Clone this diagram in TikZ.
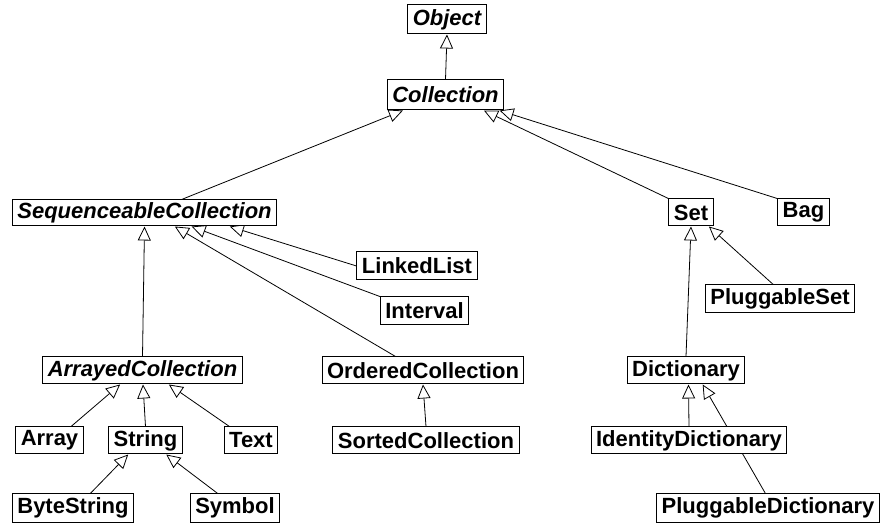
\documentclass[tikz,border=0pt]{standalone}
\usepackage{fontspec}
\setmainfont{Liberation Sans}
\usepackage{tikz}
\usetikzlibrary{arrows.meta, backgrounds}
\tikzstyle{cls} = [rectangle, draw=black, fill=white, line width=1pt, inner xsep=5pt, inner ysep=0pt, minimum height=27pt, text centered, font=\fontsize{22}{24}\selectfont\bfseries]
\tikzstyle{abstract} = [cls, font=\fontsize{22}{24}\selectfont\bfseries\itshape]
\tikzstyle{inherit} = [line width=0.8pt, -{Triangle[open, length=14pt, width=13pt]}]

\begin{document}
\begin{tikzpicture}[x=1pt, y=-1pt]
        \useasboundingbox (0,0) rectangle (892,526);

        \node (obj) [abstract, minimum height=29pt] at (447,19.5) {Object};
        \node (coll) [abstract, minimum height=30pt] at (445.5,95) {Collection};
        \node (seq) [abstract, minimum height=26pt] at (144.5,213) {SequenceableCollection};
        \node (set) [cls] at (691,212.5) {Set};
        \node (bag) [cls] at (803.5,212.5) {Bag};
        \node (lnk) [cls, minimum height=28pt] at (417,266) {LinkedList};
        \node (intv) [cls, minimum height=28pt] at (424.5,311) {Interval};
        \node (pset) [cls, minimum height=28pt] at (780,299) {PluggableSet};
        \node (arrc) [abstract] at (142.5,370.5) {ArrayedCollection};
        \node (ord) [cls] at (423,370.5) {OrderedCollection};
        \node (dict) [cls] at (686,370.5) {Dictionary};
        \node (arr) [cls] at (49.5,440.5) {Array};
        \node (str) [cls] at (145.5,440.5) {String};
        \node (txt) [cls] at (251,440.5) {Text};
        \node (sord) [cls] at (426,440.5) {SortedCollection};
        \node (idict) [cls] at (689,440.5) {IdentityDictionary};
        \node (bstr) [cls, minimum height=28pt] at (73,508) {ByteString};
        \node (sym) [cls, minimum height=28pt] at (235,508) {Symbol};
        \node (pdict) [cls, minimum height=28pt] at (768,508) {PluggableDictionary};

        \begin{pgfonlayer}{background}
        \draw [inherit] (coll.north) -- (obj.south);
        \draw [inherit] (seq.20) -- (coll.-160);
        \draw [inherit] (set.north west) -- (coll.-22);
        \draw [inherit] (bag.north west) -- (coll.-16);
        \draw [inherit] (lnk.west) -- (seq.-9);
        \draw [inherit] (intv.north west) -- (seq.-16);
        \draw [inherit] (ord.153) -- (seq.-24);
        \draw [inherit] (arrc.north) -- (seq.south);
        \draw [inherit] (pset.115) -- (set.-38);
        \draw [inherit] (dict.north) -- (set.south);
        \draw [inherit] (arr.33) -- (arrc.-148);
        \draw [inherit] (str.north) -- (arrc.-88);
        \draw [inherit] (txt.147) -- (arrc.-28);
        \draw [inherit] (bstr.40) -- (str.-141);
        \draw [inherit] (sym.140) -- (str.-34);
        \draw [inherit] (sord.north) -- (ord.south);
        \draw [inherit] (idict.north) -- (dict.-80);
        \draw [inherit] (pdict.100) -- (dict.-40);
        \end{pgfonlayer}
    \end{tikzpicture}
\end{document}
